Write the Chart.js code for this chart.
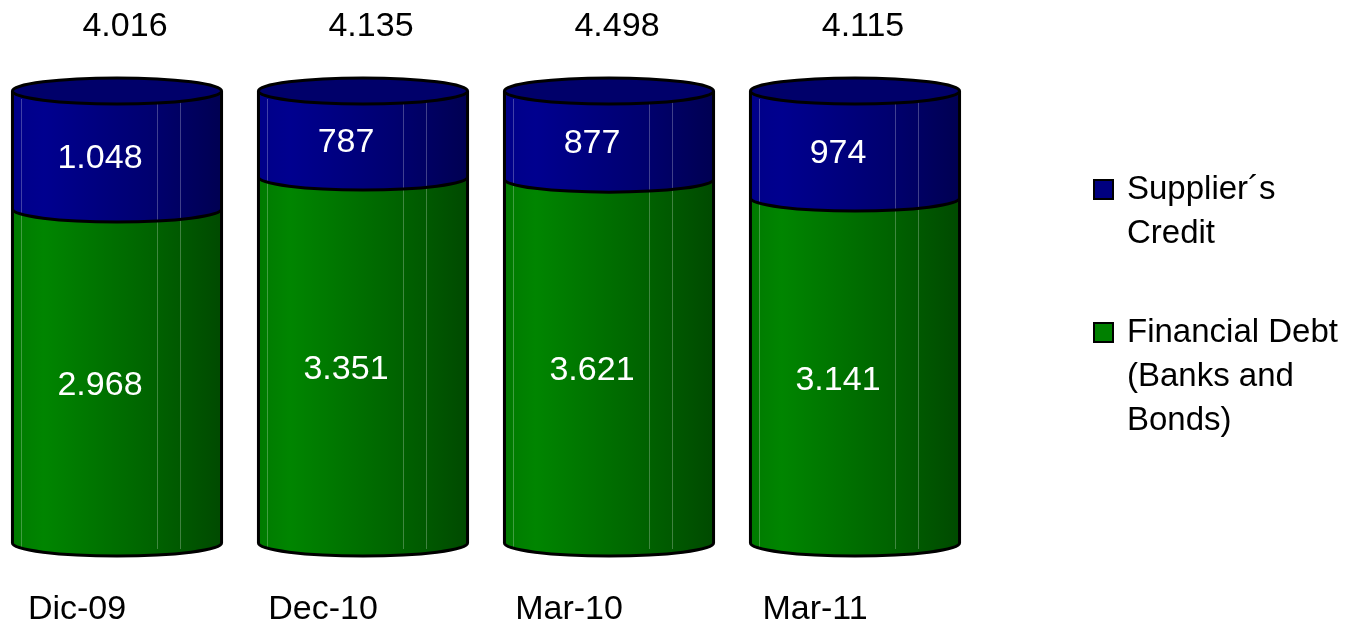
<!DOCTYPE html>
<html>
<head>
<meta charset="utf-8">
<script src="https://cdn.jsdelivr.net/npm/chart.js@4.4.0/dist/chart.umd.min.js"></script>
<style>
html,body{margin:0;padding:0;background:#fff;}
#wrap{width:1349px;height:623px;position:relative;}
</style>
</head>
<body>
<div id="wrap"><canvas id="c" width="1349" height="623"></canvas></div>
<script>
const categories = ['Dic-09', 'Dec-10', 'Mar-10', 'Mar-11'];
const supplierCredit = [1048, 787, 877, 974];
const financialDebt = [2968, 3351, 3621, 3141];
const totals = [4016, 4135, 4498, 4115];
const supplierLabel = ['Supplier´s', 'Credit'];
const financialLabel = ['Financial Debt', '(Banks and', 'Bonds)'];

const pct = (arr) => arr.map((v, i) => v / (supplierCredit[i] + financialDebt[i]) * 100);
const fmt = (v) => String(v).replace(/\B(?=(\d{3})+(?!\d))/g, '.');

const FONT = '"Liberation Sans", Arial, sans-serif';

const cylinderPlugin = {
  id: 'cylinders',
  beforeDatasetsDraw(chart) {
    const ctx = chart.ctx;
    const mG = chart.getDatasetMeta(0), mB = chart.getDatasetMeta(1);
    ctx.save();
    for (let i = 0; i < mG.data.length; i++) {
      const g = mG.data[i], b = mB.data[i];
      const w = g.width, cx = g.x, rx = w / 2, ry = 13;
      const x0 = cx - rx, x1 = cx + rx;
      const yBot = g.base, yMid = g.y, yTop = b.y;

      let gg = ctx.createLinearGradient(x0, 0, x1, 0);
      gg.addColorStop(0, '#007a00');
      gg.addColorStop(0.15, '#008500');
      gg.addColorStop(0.65, '#006400');
      gg.addColorStop(1, '#004a00');
      ctx.beginPath();
      ctx.moveTo(x0, yMid);
      ctx.lineTo(x0, yBot);
      ctx.ellipse(cx, yBot, rx, ry, 0, Math.PI, 0, true);
      ctx.lineTo(x1, yMid);
      ctx.closePath();
      ctx.fillStyle = gg;
      ctx.fill();

      let bg = ctx.createLinearGradient(x0, 0, x1, 0);
      bg.addColorStop(0, '#000088');
      bg.addColorStop(0.15, '#00008f');
      bg.addColorStop(0.65, '#000070');
      bg.addColorStop(1, '#000052');
      ctx.beginPath();
      ctx.moveTo(x0, yTop);
      ctx.lineTo(x0, yMid);
      ctx.ellipse(cx, yMid, rx, ry, 0, Math.PI, 0, true);
      ctx.lineTo(x1, yTop);
      ctx.closePath();
      ctx.fillStyle = bg;
      ctx.fill();

      ctx.strokeStyle = 'rgba(255,255,255,0.25)';
      ctx.lineWidth = 1;
      [0.043, 0.689, 0.799].forEach(f => {
        const x = Math.round(x0 + f * w) + 0.5;
        ctx.beginPath();
        ctx.moveTo(x, yTop + 8);
        ctx.lineTo(x, yBot + 6);
        ctx.stroke();
      });

      ctx.beginPath();
      ctx.ellipse(cx, yTop, rx, ry, 0, 0, Math.PI * 2);
      ctx.fillStyle = '#00006a';
      ctx.fill();

      ctx.strokeStyle = '#000';
      ctx.lineWidth = 3;
      ctx.lineJoin = 'round';
      ctx.beginPath();
      ctx.ellipse(cx, yTop, rx, ry, 0, 0, Math.PI * 2);
      ctx.stroke();
      ctx.beginPath();
      ctx.moveTo(x0, yTop); ctx.lineTo(x0, yBot);
      ctx.moveTo(x1, yTop); ctx.lineTo(x1, yBot);
      ctx.stroke();
      ctx.beginPath();
      ctx.ellipse(cx, yMid, rx, ry, 0, Math.PI, 0, true);
      ctx.stroke();
      ctx.beginPath();
      ctx.ellipse(cx, yBot, rx, ry, 0, Math.PI, 0, true);
      ctx.stroke();
    }
    ctx.restore();
    return false;
  },
  afterDraw(chart) {
    const ctx = chart.ctx;
    const mG = chart.getDatasetMeta(0), mB = chart.getDatasetMeta(1);
    ctx.save();
    ctx.font = '34px ' + FONT;
    ctx.textAlign = 'center';
    ctx.textBaseline = 'middle';
    for (let i = 0; i < mG.data.length; i++) {
      const g = mG.data[i], b = mB.data[i];
      ctx.fillStyle = '#fff';
      ctx.fillText(fmt(financialDebt[i]), g.x - 17, (g.y + g.base) / 2 + 10);
      ctx.fillText(fmt(supplierCredit[i]), b.x - 17, (b.y + b.base) / 2 + 9);
      ctx.fillStyle = '#000';
      ctx.fillText(fmt(totals[i]), b.x + 8, 27);
    }
    const items = [
      { lines: supplierLabel, color: '#000080', y: 190 },
      { lines: financialLabel, color: '#008000', y: 333 }
    ];
    ctx.font = '33px ' + FONT;
    ctx.textAlign = 'left';
    items.forEach(it => {
      ctx.fillStyle = it.color;
      ctx.fillRect(1094, it.y - 10, 19, 19);
      ctx.strokeStyle = '#000';
      ctx.lineWidth = 2;
      ctx.strokeRect(1094, it.y - 10, 19, 19);
      ctx.fillStyle = '#000';
      it.lines.forEach((t, k) => ctx.fillText(t, 1127, it.y + k * 44));
    });
    ctx.restore();
  }
};

new Chart(document.getElementById('c'), {
  type: 'bar',
  data: {
    labels: categories,
    datasets: [
      { label: financialLabel.join(' '), data: pct(financialDebt), backgroundColor: '#008000' },
      { label: supplierLabel.join(' '), data: pct(supplierCredit), backgroundColor: '#000080' }
    ]
  },
  options: {
    responsive: false,
    animation: false,
    events: [],
    layout: { padding: { top: 91, left: 117, right: 494, bottom: 0 } },
    datasets: { bar: { barPercentage: 0.85, categoryPercentage: 1 } },
    plugins: { legend: { display: false }, tooltip: { enabled: false } },
    scales: {
      x: {
        stacked: true,
        offset: false,
        grid: { display: false, drawTicks: false },
        border: { display: false },
        afterFit: (scale) => { scale.height = 80; },
        ticks: { color: '#000', font: { family: FONT, size: 34, lineHeight: 1 }, padding: 50, labelOffset: -40, maxRotation: 0, autoSkip: false }
      },
      y: { stacked: true, display: false, min: 0, max: 100 }
    }
  },
  plugins: [cylinderPlugin]
});
</script>
</body>
</html>
